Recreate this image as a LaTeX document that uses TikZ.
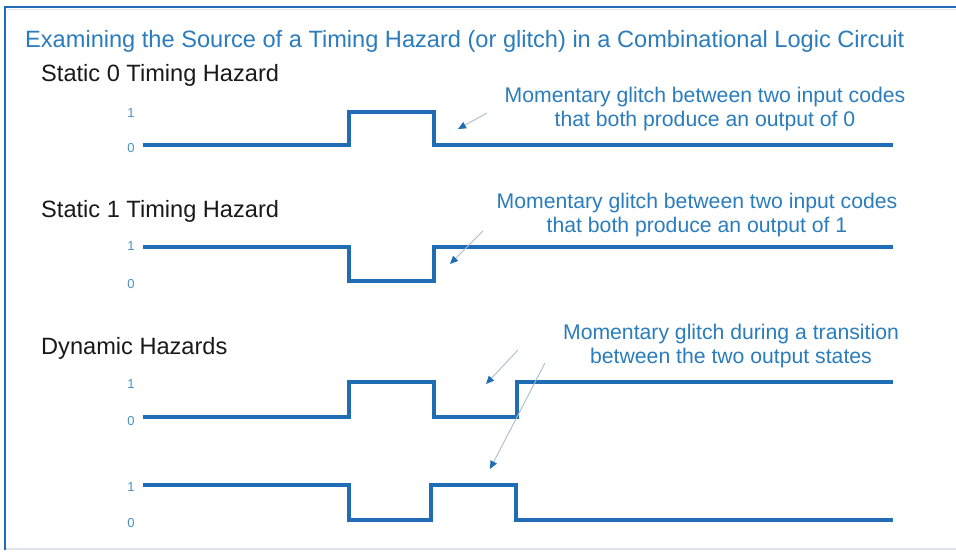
\documentclass[tikz,border=0pt]{standalone}
\usepackage{fontspec}
\setmainfont{Liberation Sans}
\usetikzlibrary{arrows.meta,positioning}
\definecolor{waveblue}{HTML}{1F6EB5}
\definecolor{textblue}{HTML}{2A7CBC}
\definecolor{pointgray}{HTML}{A9BCCB}
\definecolor{framegray}{HTML}{DDE5EA}

\begin{document}
\begin{tikzpicture}[
    x=1pt, y=-1pt,
    wave/.style={draw=waveblue, line width=3.2pt},
    lvl/.style={text=textblue!85, font=\fontsize{13}{14}\selectfont, inner sep=0pt},
    heading/.style={anchor=west, inner sep=0pt, text=black!90, font=\fontsize{23.6}{26}\selectfont},
    note/.style={text=textblue, align=center, inner sep=0pt, font=\fontsize{21.2}{24.5}\selectfont},
    pointer/.style={draw=pointgray, line width=0.9pt, -{Triangle[length=8pt,width=7pt,color=waveblue]}}
  ]
  \useasboundingbox (0,0) rectangle (956,553);
  % frame
  \draw[framegray, line width=1.5pt] (5,549) -- (956,549);
  \draw[framegray, line width=1pt] (7,10) -- (956,10);
  \draw[waveblue, line width=2.5pt] (5,550) -- (5,7) -- (956,7);

  \node (title) [anchor=west, inner sep=0pt, text=textblue, font=\fontsize{23.6}{26}\selectfont]
    at (25,41) {Examining the Source of a Timing Hazard (or glitch) in a Combinational Logic Circuit};

  % static 0
  \node (h0) [heading] at (41,75) {Static 0 Timing Hazard};
  \node (a1) [lvl] at (131,113) {1};
  \node (a0) [lvl] at (131,148) {0};
  \draw[wave] (143,145) -- (349,145) -- (349,112) -- (434,112) -- (434,145) -- (893,145);
  \node (n0) [note] at (705,109) {Momentary glitch between two input codes\\that both produce an output of 0};
  \coordinate (p0s) at (487,113);
  \coordinate (p0e) at (458,129);
  \draw[pointer] (p0s) -- (p0e);

  % static 1
  \node (h1) [heading] at (41,211) {Static 1 Timing Hazard};
  \node (b1) [lvl] at (131,246) {1};
  \node (b0) [lvl] at (131,284) {0};
  \draw[wave] (143,247) -- (349,247) -- (349,281) -- (434,281) -- (434,247) -- (893,247);
  \node (n1) [note] at (697,215) {Momentary glitch between two input codes\\that both produce an output of 1};
  \coordinate (p1s) at (483,231);
  \coordinate (p1e) at (450,264);
  \draw[pointer] (p1s) -- (p1e);

  % dynamic
  \node (h2) [heading] at (41,348) {Dynamic Hazards};
  \node (c1) [lvl] at (131,384) {1};
  \node (c0) [lvl] at (131,421) {0};
  \draw[wave] (143,417) -- (349,417) -- (349,382) -- (434,382) -- (434,417) -- (517,417) -- (517,382) -- (893,382);
  \node (d1) [lvl] at (131,487) {1};
  \node (d0) [lvl] at (131,523) {0};
  \draw[wave] (143,485) -- (349,485) -- (349,520) -- (431,520) -- (431,485) -- (516,485) -- (516,520) -- (893,520);
  \node (n2) [note] at (731,346) {Momentary glitch during a transition\\between the two output states};
  \coordinate (p2s) at (518,350);
  \coordinate (p2e) at (486,384);
  \coordinate (p3s) at (545,363);
  \coordinate (p3e) at (490,469);
  \draw[pointer] (p2s) -- (p2e);
  \draw[pointer] (p3s) -- (p3e);
\end{tikzpicture}
\end{document}
